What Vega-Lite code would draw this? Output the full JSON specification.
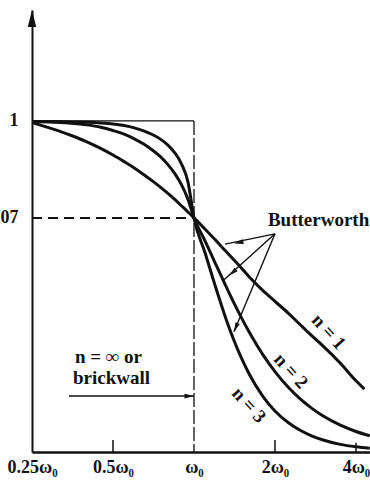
{
  "$schema": "https://vega.github.io/schema/vega-lite/v6.json",
  "autosize": "none",
  "width": 338,
  "height": 442,
  "padding": {"left": 32, "top": 10, "right": 0, "bottom": 29},
  "background": "white",
  "view": {"stroke": null},
  "config": {
    "font": "Liberation Serif",
    "axis": {
      "domainColor": "#111",
      "ticks": false,
      "grid": false,
      "labelFont": "Liberation Serif",
      "labelFontWeight": "bold",
      "labelColor": "#111",
      "labelFontSize": 18,
      "labelFlush": false,
      "labelOverlap": false,
      "labelBound": false,
      "title": null
    }
  },
  "datasets": {
    "response": [
      {"n": 1, "w": 0.25, "h": 0.995}, {"n": 1, "w": 0.3, "h": 0.975}, {"n": 1, "w": 0.35, "h": 0.956},
      {"n": 1, "w": 0.4, "h": 0.937}, {"n": 1, "w": 0.45, "h": 0.917}, {"n": 1, "w": 0.5, "h": 0.897},
      {"n": 1, "w": 0.55, "h": 0.877}, {"n": 1, "w": 0.6, "h": 0.858}, {"n": 1, "w": 0.65, "h": 0.838},
      {"n": 1, "w": 0.7, "h": 0.819}, {"n": 1, "w": 0.75, "h": 0.8}, {"n": 1, "w": 0.8, "h": 0.781},
      {"n": 1, "w": 0.85, "h": 0.762}, {"n": 1, "w": 0.9, "h": 0.743}, {"n": 1, "w": 0.95, "h": 0.725},
      {"n": 1, "w": 1.0, "h": 0.707}, {"n": 1, "w": 1.1, "h": 0.673}, {"n": 1, "w": 1.2, "h": 0.641},
      {"n": 1, "w": 1.3, "h": 0.61}, {"n": 1, "w": 1.4, "h": 0.582}, {"n": 1, "w": 1.5, "h": 0.556},
      {"n": 1, "w": 1.6, "h": 0.53}, {"n": 1, "w": 1.8, "h": 0.488}, {"n": 1, "w": 2.0, "h": 0.455},
      {"n": 1, "w": 2.25, "h": 0.418}, {"n": 1, "w": 2.5, "h": 0.382}, {"n": 1, "w": 2.75, "h": 0.35},
      {"n": 1, "w": 3.0, "h": 0.322}, {"n": 1, "w": 3.5, "h": 0.268}, {"n": 1, "w": 4.0, "h": 0.215},
      {"n": 1, "w": 4.3, "h": 0.19},

      {"n": 2, "w": 0.25, "h": 0.998}, {"n": 2, "w": 0.3, "h": 0.996}, {"n": 2, "w": 0.35, "h": 0.993},
      {"n": 2, "w": 0.4, "h": 0.988}, {"n": 2, "w": 0.45, "h": 0.981}, {"n": 2, "w": 0.5, "h": 0.971},
      {"n": 2, "w": 0.55, "h": 0.96}, {"n": 2, "w": 0.6, "h": 0.946}, {"n": 2, "w": 0.65, "h": 0.93},
      {"n": 2, "w": 0.7, "h": 0.912}, {"n": 2, "w": 0.75, "h": 0.892}, {"n": 2, "w": 0.8, "h": 0.868},
      {"n": 2, "w": 0.85, "h": 0.84}, {"n": 2, "w": 0.9, "h": 0.806}, {"n": 2, "w": 0.95, "h": 0.763},
      {"n": 2, "w": 1.0, "h": 0.707}, {"n": 2, "w": 1.1, "h": 0.637}, {"n": 2, "w": 1.2, "h": 0.57},
      {"n": 2, "w": 1.3, "h": 0.509}, {"n": 2, "w": 1.4, "h": 0.454}, {"n": 2, "w": 1.5, "h": 0.406},
      {"n": 2, "w": 1.6, "h": 0.364}, {"n": 2, "w": 1.8, "h": 0.295}, {"n": 2, "w": 2.0, "h": 0.243},
      {"n": 2, "w": 2.25, "h": 0.194}, {"n": 2, "w": 2.5, "h": 0.158}, {"n": 2, "w": 2.75, "h": 0.131},
      {"n": 2, "w": 3.0, "h": 0.11}, {"n": 2, "w": 3.5, "h": 0.081}, {"n": 2, "w": 4.0, "h": 0.062},
      {"n": 2, "w": 4.5, "h": 0.049},

      {"n": 3, "w": 0.25, "h": 0.998}, {"n": 3, "w": 0.3, "h": 0.998}, {"n": 3, "w": 0.35, "h": 0.997},
      {"n": 3, "w": 0.4, "h": 0.996}, {"n": 3, "w": 0.45, "h": 0.994}, {"n": 3, "w": 0.5, "h": 0.991},
      {"n": 3, "w": 0.55, "h": 0.986}, {"n": 3, "w": 0.6, "h": 0.979}, {"n": 3, "w": 0.65, "h": 0.97},
      {"n": 3, "w": 0.7, "h": 0.959}, {"n": 3, "w": 0.75, "h": 0.945}, {"n": 3, "w": 0.8, "h": 0.927},
      {"n": 3, "w": 0.85, "h": 0.903}, {"n": 3, "w": 0.9, "h": 0.869}, {"n": 3, "w": 0.95, "h": 0.815},
      {"n": 3, "w": 1.0, "h": 0.707}, {"n": 3, "w": 1.1, "h": 0.601}, {"n": 3, "w": 1.2, "h": 0.501},
      {"n": 3, "w": 1.3, "h": 0.414}, {"n": 3, "w": 1.4, "h": 0.342}, {"n": 3, "w": 1.5, "h": 0.284},
      {"n": 3, "w": 1.6, "h": 0.237}, {"n": 3, "w": 1.8, "h": 0.169}, {"n": 3, "w": 2.0, "h": 0.124},
      {"n": 3, "w": 2.25, "h": 0.0875}, {"n": 3, "w": 2.5, "h": 0.064}, {"n": 3, "w": 2.75, "h": 0.048},
      {"n": 3, "w": 3.0, "h": 0.037}, {"n": 3, "w": 3.5, "h": 0.023}, {"n": 3, "w": 4.0, "h": 0.0156},
      {"n": 3, "w": 4.5, "h": 0.011}
    ],
    "pointers": [
      {"arrow": "n1", "w": 2.0, "h": 0.659, "w2": 1.304, "h2": 0.628, "tipW": 1.408, "tipH": 0.63},
      {"arrow": "n2", "w": 2.0, "h": 0.659, "w2": 1.293, "h2": 0.52, "tipW": 1.349, "tipH": 0.532},
      {"arrow": "n3", "w": 2.0, "h": 0.659, "w2": 1.408, "h2": 0.363, "tipW": 1.408, "tipH": 0.363}
    ]
  },
  "encoding": {
    "x": {
      "type": "quantitative",
      "scale": {"type": "log", "domain": [0.25, 4.51], "nice": false, "zero": false}
    },
    "y": {
      "type": "quantitative",
      "scale": {"domain": [0, 1.335], "nice": false, "zero": false}
    }
  },
  "layer": [
    {
      "data": {"values": [{"w": 0.25, "h": 0}]},
      "mark": {"type": "point", "opacity": 0},
      "encoding": {
        "x": {
          "field": "w",
          "type": "quantitative",
          "axis": {
            "values": [0.25, 0.5, 1, 2, 4],
            "labelExpr": "datum.value == 1 ? 'ω₀' : datum.value + 'ω₀'",
            "domainWidth": 2.5,
            "labelPadding": 6
          }
        },
        "y": {
          "field": "h",
          "type": "quantitative",
          "axis": {
            "values": [0.707, 1],
            "labelExpr": "datum.value == 1 ? '1' : '.707'",
            "domainWidth": 2,
            "labelPadding": 14
          }
        }
      }
    },
    {
      "data": {"values": [{"w": 0.25, "h": 1, "w2": 1}]},
      "mark": {"type": "rule", "color": "#111", "strokeWidth": 1.4},
      "encoding": {
        "x": {"field": "w"},
        "x2": {"field": "w2"},
        "y": {"field": "h"}
      }
    },
    {
      "data": {"values": [{"w": 1, "h": 1, "h2": 0}]},
      "mark": {"type": "rule", "color": "#111", "strokeWidth": 1.3, "strokeDash": [14, 3]},
      "encoding": {
        "x": {"field": "w"},
        "y": {"field": "h"},
        "y2": {"field": "h2"}
      }
    },
    {
      "data": {"values": [{"w": 0.25, "h": 0.707, "w2": 1}]},
      "mark": {"type": "rule", "color": "#111", "strokeWidth": 2, "strokeDash": [10, 6]},
      "encoding": {
        "x": {"field": "w"},
        "x2": {"field": "w2"},
        "y": {"field": "h"}
      }
    },
    {
      "data": {"values": [{"w": 0.5, "h": 0, "h2": 0.036}, {"w": 2, "h": 0, "h2": 0.036}, {"w": 4, "h": 0, "h2": 0.028}]},
      "mark": {"type": "rule", "color": "#111", "strokeWidth": 1.5},
      "encoding": {
        "x": {"field": "w"},
        "y": {"field": "h"},
        "y2": {"field": "h2"}
      }
    },
    {
      "data": {"name": "response"},
      "mark": {"type": "line", "color": "#111", "strokeWidth": 3, "interpolate": "monotone"},
      "encoding": {
        "x": {"field": "w"},
        "y": {"field": "h"},
        "detail": {"field": "n", "type": "nominal"}
      }
    },
    {
      "data": {"name": "pointers"},
      "mark": {"type": "rule", "color": "#111", "strokeWidth": 1.4},
      "encoding": {
        "x": {"field": "w"},
        "y": {"field": "h"},
        "x2": {"field": "w2"},
        "y2": {"field": "h2"}
      }
    },
    {
      "data": {"name": "pointers"},
      "transform": [{"filter": "datum.arrow == 'n1'"}],
      "mark": {"type": "point", "shape": "M0,0L0.5,2L-0.5,2Z", "filled": true, "color": "#111", "opacity": 1, "size": 90, "angle": 259},
      "encoding": {"x": {"field": "tipW"}, "y": {"field": "tipH"}}
    },
    {
      "data": {"name": "pointers"},
      "transform": [{"filter": "datum.arrow == 'n2'"}],
      "mark": {"type": "point", "shape": "M0,0L0.5,2L-0.5,2Z", "filled": true, "color": "#111", "opacity": 1, "size": 90, "angle": 228},
      "encoding": {"x": {"field": "tipW"}, "y": {"field": "tipH"}}
    },
    {
      "data": {"name": "pointers"},
      "transform": [{"filter": "datum.arrow == 'n3'"}],
      "mark": {"type": "point", "shape": "M0,0L0.5,2L-0.5,2Z", "filled": true, "color": "#111", "opacity": 1, "size": 90, "angle": 203},
      "encoding": {"x": {"field": "tipW"}, "y": {"field": "tipH"}}
    },
    {
      "data": {"values": [{"w": 0.343, "h": 0.169, "w2": 1}]},
      "mark": {"type": "rule", "color": "#111", "strokeWidth": 1.6},
      "encoding": {
        "x": {"field": "w"},
        "x2": {"field": "w2"},
        "y": {"field": "h"}
      }
    },
    {
      "data": {"values": [{"w": 1, "h": 0.169}]},
      "mark": {"type": "point", "shape": "M0,0L0.5,2L-0.5,2Z", "filled": true, "color": "#111", "opacity": 1, "size": 90, "angle": 90},
      "encoding": {"x": {"field": "w"}, "y": {"field": "h"}}
    },
    {
      "data": {"values": [{"w": 0.25, "h": 1.335}]},
      "mark": {"type": "point", "shape": "M0,0L0.5,2L-0.5,2Z", "filled": true, "color": "#111", "opacity": 1, "size": 290, "angle": 0},
      "encoding": {"x": {"field": "w"}, "y": {"field": "h"}}
    },
    {
      "data": {"values": [
        {"w": 1.883, "h": 0.701, "label": "Butterworth"},
        {"w": 0.361, "h": 0.287, "label": "n = ∞ or"},
        {"w": 0.355, "h": 0.224, "label": "brickwall"}
      ]},
      "mark": {"type": "text", "align": "left", "baseline": "middle", "font": "Liberation Serif", "fontWeight": "bold", "fontSize": 19, "color": "#111"},
      "encoding": {
        "x": {"field": "w"},
        "y": {"field": "h"},
        "text": {"field": "label"}
      }
    },
    {
      "data": {"values": [
        {"w": 3.17, "h": 0.363, "label": "n = 1"},
        {"w": 2.295, "h": 0.245, "label": "n = 2"},
        {"w": 1.601, "h": 0.142, "label": "n = 3"}
      ]},
      "mark": {"type": "text", "align": "center", "baseline": "middle", "font": "Liberation Serif", "fontWeight": "bold", "fontSize": 19, "angle": 48, "color": "#111"},
      "encoding": {
        "x": {"field": "w"},
        "y": {"field": "h"},
        "text": {"field": "label"}
      }
    }
  ]
}
